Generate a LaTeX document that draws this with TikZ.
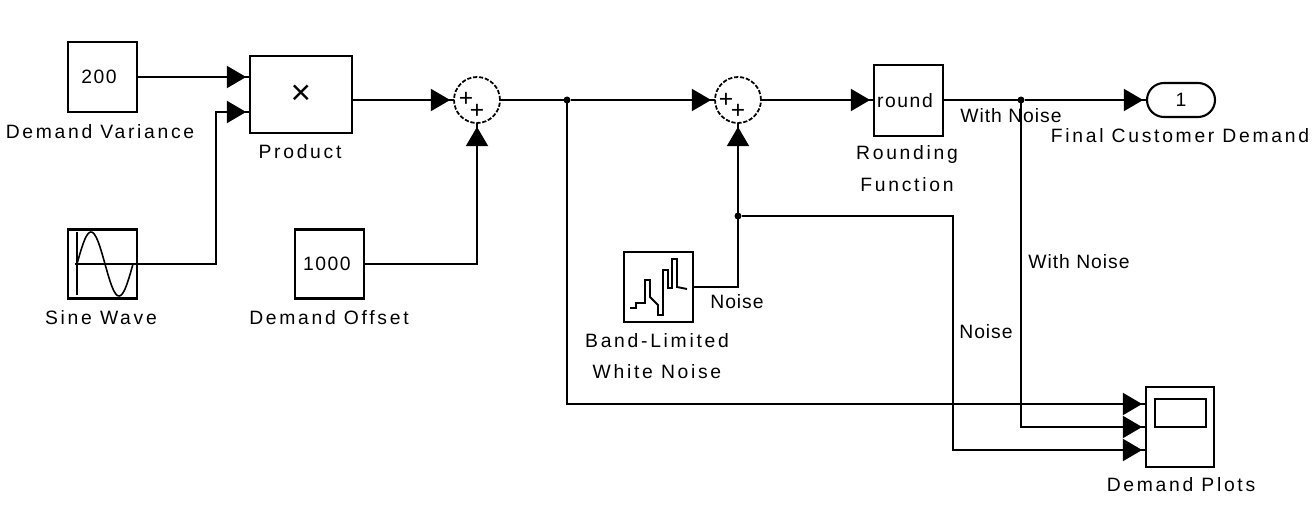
\documentclass[tikz,border=0pt]{standalone}
\usepackage{fontspec}
\setmainfont{Liberation Sans}
\newfontfamily\blockfont[LetterSpace=14]{Liberation Sans}
\newfontfamily\iconfont[LetterSpace=8]{Liberation Sans}
\newfontfamily\sigfont[LetterSpace=5]{Liberation Sans}
\usetikzlibrary{arrows.meta,shapes.misc}
\begin{document}
\begin{tikzpicture}[
    x=0.02cm, y=-0.02cm,
    every node/.style={inner sep=0pt, outer sep=0pt}
]

\tikzset{block/.style 2 args={draw, rectangle, line width=1.2pt, minimum width=#1*0.02cm, minimum height=#2*0.02cm, font=\iconfont\fontsize{11}{12}\selectfont}}
\tikzset{lab/.style={font=\blockfont\fontsize{11}{12}\selectfont}}
\tikzset{siglab/.style={font=\sigfont\fontsize{11}{12}\selectfont}}
\tikzset{sumblock/.style={draw, circle, line width=1pt, dash pattern=on 2.4pt off 1pt, minimum size=0.92cm}}
\tikzset{plus/.style={font=\fontsize{14}{14}\selectfont}}
\tikzset{wire/.style={line width=1.3pt}}
\tikzset{sig/.style={wire, -{Triangle[length=11pt,width=12.5pt] Rectangle[length=2.2pt,width=1.3pt]}}}
\tikzset{dot/.style={circle, fill=black, minimum size=0.14cm}}

\useasboundingbox (0,0) rectangle (1316,520);

% ================= blocks =================

\node[block={69}{70}]   (variance) at (102.5,77)  {\hspace{-4pt}200};
\node[block={102}{77}, font=\fontsize{20}{20}\selectfont] (product) at (301,94.5) {×};
\node[block={69}{69}]   (sine)     at (102.5,264) {};
\node[block={69}{69}]   (offset)   at (329.5,264) {\hspace{-3pt}1000};
\node[sumblock]         (sum1)     at (477,100)   {};
\node[sumblock]         (sum2)     at (738,100)   {};
\node[block={69}{70}]   (noise)    at (658.5,287) {};
\node[block={69}{71}]   (round)    at (908.5,100.5) {\hspace{-4pt}round};
\node[draw, rounded rectangle, line width=1.2pt, minimum width=1.36cm, minimum height=0.68cm,
      font=\iconfont\fontsize{11}{12}\selectfont] (out) at (1181,100) {1};
\node[block={68}{80}]   (plots)    at (1180,427)  {};
\node[draw, rectangle, line width=1.2pt, minimum width=1.02cm, minimum height=0.56cm] (screen) at (1180.5,413) {};

% signs of the two sums
\node[plus] (p11) at (466,99)  {+};
\node[plus] (p12) at (477,111) {+};
\node[plus] (p21) at (726,100) {+};
\node[plus] (p22) at (738,111) {+};

% ================= icons =================

\draw[line width=1.1pt] (77,232) -- (77,295);
\draw[line width=1pt] (75,264) -- (sine.east);
\draw[line width=0.9pt] plot[domain=0:360, samples=50] ({77+\x/360*56},{264-32*sin(\x)});

\draw[line width=1.1pt] (630,308) -- (636,308) -- (636,303) -- (645,303) -- (645,280) -- (650,280)
    -- (650,297) -- (658,305) -- (658,315) -- (663,315) -- (663,270) -- (668,270) -- (668,288)
    -- (672,288) -- (672,259) -- (677,259) -- (677,287) -- (687,289);

% ================= labels =================

\node[lab] (lvariance) at (100,132)  {Demand Variance};
\node[lab] (lproduct)  at (300,152)  {Product};
\node[lab] (lsine)     at (101,318)  {Sine Wave};
\node[lab] (loffset)   at (329,318)  {Demand Offset};
\node[lab] (lband)     at (657,341)  {Band-Limited};
\node[lab] (lwhite)    at (657,372)  {White Noise};
\node[lab] (lround)    at (907,155)  {Rounding};
\node[lab] (lfunc)     at (907,185)  {Function};
\node[lab] (lout)      at (1180,136) {Final Customer Demand};
\node[lab] (lplots)    at (1181,485) {Demand Plots};

\node[siglab] (snoise1) at (737,302)  {Noise};
\node[siglab] (snoise2) at (986,332)  {Noise};
\node[siglab] (swith1)  at (1011,116) {With Noise};
\node[siglab] (swith2)  at (1079,262) {With Noise};

% ================= connectors =================

\node[dot] (j1) at (567,100)  {};
\node[dot] (j2) at (738,216)  {};
\node[dot] (j3) at (1021,100) {};

\coordinate (prod1) at (250,77);
\coordinate (prod2) at (250,112);
\coordinate (turn1) at (216,112);
\coordinate (turn2) at (567,404);
\coordinate (turn3) at (1021,427);
\coordinate (turn4) at (953,216);
\coordinate (turn5) at (953,450);
\coordinate (plot1) at (1146,404);
\coordinate (plot2) at (1146,427);
\coordinate (plot3) at (1146,450);
\coordinate (noiseup) at (738,287);

\draw[sig] (variance.east |- prod1) -- (prod1);
\draw[sig] (sine.east) -- (turn1 |- sine.east) -- (turn1) -- (prod2);
\draw[sig] (product.east |- sum1) -- (sum1);
\draw[sig] (offset.east) -- (offset.east -| sum1) -- (sum1);
\draw[wire] (sum1) ++(23,0) -- (j1);
\draw[sig] (j1) -- (sum2);
\draw[sig] (sum2) ++(23,0) -- (round.west |- sum2);
\draw[sig] (noise.east) -- (noiseup) -- (sum2);
\draw[wire] (round.east |- j3) -- (j3);
\draw[sig] (j3) -- (out);
\draw[sig] (j1) -- (turn2) -- (plot1);
\draw[sig] (j3) -- (turn3) -- (plot2);
\draw[sig] (j2) -- (turn4) -- (turn5) -- (plot3);

\end{tikzpicture}
\end{document}
